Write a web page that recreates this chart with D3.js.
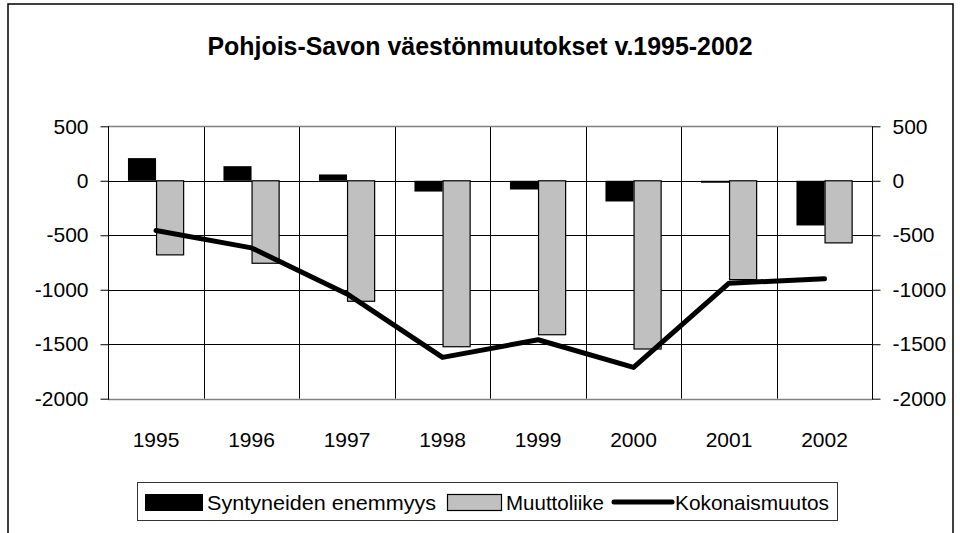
<!DOCTYPE html>
<html>
<head>
<meta charset="utf-8">
<style>
  body { margin: 0; background: #fff; }
  svg { display: block; font-family: "Liberation Sans", Arial, sans-serif; }
</style>
</head>
<body>
<svg width="960" height="533"></svg>
<script src="https://d3js.org/d3.v7.min.js"></script>
<script>

var years = ["1995", "1996", "1997", "1998", "1999", "2000", "2001", "2002"];
var syntyneet = [208, 134, 58, -99, -80, -190, -18, -410];
var muuttoliike = [-680, -757, -1106, -1523, -1413, -1544, -907, -570];
var kokonais = [-457, -616, -1038, -1621, -1459, -1713, -940, -900];
var yTicks = [500, 0, -500, -1000, -1500, -2000];
var seriesNames = ["Syntyneiden enemmyys", "Muuttoliike", "Kokonaismuutos"];

var svg = d3.select("svg");

// outer frame, bottom edge cropped off
svg.append("rect")
  .attr("x", 8).attr("y", 4)
  .attr("width", 945).attr("height", 560)
  .attr("fill", "none").attr("stroke", "#000").attr("stroke-width", 1.5);

svg.append("text")
  .attr("x", 480).attr("y", 55)
  .attr("text-anchor", "middle")
  .attr("font-size", 25).attr("font-weight", "bold")
  .attr("textLength", 545).attr("lengthAdjust", "spacingAndGlyphs")
  .text("Pohjois-Savon väestönmuutokset v.1995-2002");

var pLeft = 108.3, pRight = 872.3, pTop = 126.3, pBottom = 398.7;

var x0 = d3.scaleBand().domain(years).range([pLeft, pRight]);
var x1 = d3.scaleBand().domain(["s", "m"]).range([0, x0.bandwidth()]).paddingOuter(0.7);
var y = d3.scaleLinear().domain([-2000, 500]).range([pBottom, pTop]);

// horizontal gridlines
svg.append("g").selectAll("line").data(yTicks.slice(1, -1)).join("line")
  .attr("x1", pLeft).attr("x2", pRight)
  .attr("y1", function(d) { return Math.round(y(d)) + 0.5; })
  .attr("y2", function(d) { return Math.round(y(d)) + 0.5; })
  .attr("stroke", "#000");

// vertical gridlines at category boundaries
svg.append("g").selectAll("line").data(years.slice(1)).join("line")
  .attr("x1", function(d) { return Math.round(x0(d)) + 0.5; })
  .attr("x2", function(d) { return Math.round(x0(d)) + 0.5; })
  .attr("y1", pTop).attr("y2", pBottom)
  .attr("stroke", "#000");

// plot border top/bottom gray
[500, -2000].forEach(function(v) {
  svg.append("line")
    .attr("x1", pLeft).attr("x2", pRight)
    .attr("y1", Math.round(y(v)) + 0.5).attr("y2", Math.round(y(v)) + 0.5)
    .attr("stroke", "#808080").attr("stroke-width", 1.5);
});

// axes (plain hyphen minus like the original)
var fmt = function(d) { return String(d); };
var yl = svg.append("g").attr("transform", "translate(" + (Math.round(pLeft) + 0.5) + ",0)")
  .call(d3.axisLeft(y).tickValues(yTicks).tickSize(8).tickPadding(12).tickFormat(fmt));
var yr = svg.append("g").attr("transform", "translate(" + (Math.round(pRight) + 0.5) + ",0)")
  .call(d3.axisRight(y).tickValues(yTicks).tickSize(8).tickPadding(12).tickFormat(fmt));
[yl, yr].forEach(function(a) {
  a.select(".domain").remove();
  a.selectAll("text").attr("font-size", 21).attr("font-family", "Liberation Sans, Arial, sans-serif").attr("fill", "#000");
  a.selectAll(".tick line").attr("stroke", "#000");
});
[pLeft, pRight].forEach(function(xx) {
  svg.append("line")
    .attr("x1", Math.round(xx) + 0.5).attr("x2", Math.round(xx) + 0.5)
    .attr("y1", pTop).attr("y2", pBottom + 1)
    .attr("stroke", "#000");
});

// x labels
svg.append("g").selectAll("text").data(years).join("text")
  .attr("x", function(d) { return x0(d) + x0.bandwidth() / 2; })
  .attr("y", 447)
  .attr("text-anchor", "middle")
  .attr("font-size", 21)
  .text(function(d) { return d; });

// bars
var groups = svg.append("g").selectAll("g").data(years).join("g")
  .attr("transform", function(d) { return "translate(" + x0(d) + ",0)"; });

groups.append("rect")
  .attr("x", x1("s")).attr("width", x1.bandwidth())
  .attr("y", function(d, i) { return y(Math.max(0, syntyneet[i])); })
  .attr("height", function(d, i) { return Math.abs(y(syntyneet[i]) - y(0)); })
  .attr("fill", "#000");

groups.append("rect")
  .attr("x", x1("m") + 0.5).attr("width", x1.bandwidth() - 1)
  .attr("y", function(d, i) { return y(Math.max(0, muuttoliike[i])); })
  .attr("height", function(d, i) { return Math.abs(y(muuttoliike[i]) - y(0)); })
  .attr("fill", "#c0c0c0").attr("stroke", "#000").attr("stroke-width", 1.2);

// line
var line = d3.line()
  .x(function(d, i) { return x0(years[i]) + x0.bandwidth() / 2; })
  .y(function(d) { return y(d); });

svg.append("path")
  .datum(kokonais)
  .attr("d", line)
  .attr("fill", "none").attr("stroke", "#000")
  .attr("stroke-width", 5).attr("stroke-linecap", "round").attr("stroke-linejoin", "round");

// legend
var lg = svg.append("g");
lg.append("rect")
  .attr("x", 137.5).attr("y", 482.5).attr("width", 700).attr("height", 38)
  .attr("fill", "#fff").attr("stroke", "#333").attr("stroke-width", 1);

lg.append("rect").attr("x", 145).attr("y", 494).attr("width", 58).attr("height", 17).attr("fill", "#000");
lg.append("text").attr("x", 207).attr("y", 510).attr("font-size", 21)
  .attr("textLength", 229).attr("lengthAdjust", "spacingAndGlyphs").text(seriesNames[0]);

lg.append("rect").attr("x", 447.5).attr("y", 494.5).attr("width", 54).attr("height", 16)
  .attr("fill", "#c0c0c0").attr("stroke", "#000").attr("stroke-width", 1.2);
lg.append("text").attr("x", 506).attr("y", 510).attr("font-size", 21)
  .attr("textLength", 98).attr("lengthAdjust", "spacingAndGlyphs").text(seriesNames[1]);

lg.append("line").attr("x1", 614).attr("x2", 672).attr("y1", 502).attr("y2", 502)
  .attr("stroke", "#000").attr("stroke-width", 5).attr("stroke-linecap", "round");
lg.append("text").attr("x", 675).attr("y", 510).attr("font-size", 21)
  .attr("textLength", 154).attr("lengthAdjust", "spacingAndGlyphs").text(seriesNames[2]);

</script>
</body>
</html>
